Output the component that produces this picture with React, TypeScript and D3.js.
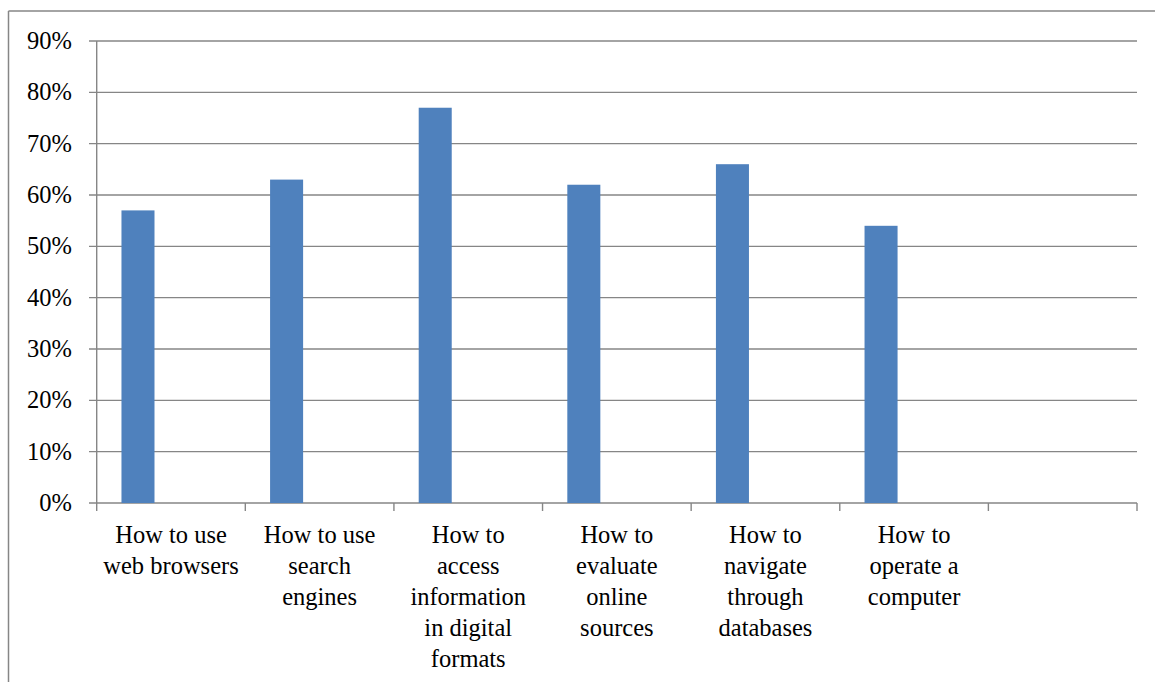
import React from "react";
import * as d3 from "d3";

// Survey topics (the seventh slot is left empty, as in the source workbook)
const categories: string[][] = [
  ["How to use", "web browsers"],
  ["How to use", "search", "engines"],
  ["How to", "access", "information", "in digital", "formats"],
  ["How to", "evaluate", "online", "sources"],
  ["How to", "navigate", "through", "databases"],
  ["How to", "operate a", "computer"],
  [],
];
const values: number[] = [0.57, 0.63, 0.77, 0.62, 0.66, 0.54];
const seriesSlots: string[] = ["s1", "s2", "s3"];
const yTicks: number[] = [0, 0.1, 0.2, 0.3, 0.4, 0.5, 0.6, 0.7, 0.8, 0.9];

const W = 1155;
const H = 682;
const plot = { left: 96.7, right: 1137, top: 41, bottom: 503 };
const GRID = "#868686";
const BAR = "#4F81BD";
const FONT = "'Liberation Serif', 'Times New Roman', serif";
const FS = 24.5;

export default function App() {
  const keys = categories.map((_, i) => String(i));
  const x = d3.scaleBand<string>().domain(keys).range([plot.left, plot.right]).padding(0);
  const bw = x.bandwidth();
  const inner = d3
    .scaleBand<string>()
    .domain(seriesSlots)
    .range([bw * (0.75 / 4.5), bw * (1 - 0.75 / 4.5)])
    .padding(0);
  const y = d3.scaleLinear().domain([0, 0.9]).range([plot.bottom, plot.top]);
  const fmt = d3.format(".0%");

  return (
    <svg
      width={W}
      height={H}
      style={{ position: "absolute", left: 0, top: 0, display: "block", background: "#fff" }}
    >
      {/* outer frame */}
      <line x1={8.5} y1={11} x2={W} y2={11} stroke={GRID} strokeWidth={1.5} />
      <line x1={8.5} y1={11} x2={8.5} y2={H} stroke={GRID} strokeWidth={1.5} />

      {/* gridlines, y ticks and labels */}
      {yTicks.map((t) => (
        <g key={t}>
          <line x1={89} x2={plot.right} y1={y(t)} y2={y(t)} stroke={GRID} strokeWidth={1.4} />
          <text
            x={72}
            y={y(t) + 8}
            textAnchor="end"
            fontFamily={FONT}
            fontSize={FS}
            fill="#000"
          >
            {fmt(t)}
          </text>
        </g>
      ))}

      {/* y axis */}
      <line x1={plot.left} x2={plot.left} y1={plot.top} y2={plot.bottom} stroke={GRID} strokeWidth={1.4} />

      {/* bars */}
      {values.map((v, i) => (
        <rect
          key={i}
          x={(x(String(i)) as number) + (inner("s1") as number)}
          y={y(v)}
          width={inner.bandwidth()}
          height={y(0) - y(v)}
          fill={BAR}
        />
      ))}

      {/* category ticks */}
      {d3.range(keys.length + 1).map((i) => {
        const xp = plot.left + i * bw;
        return <line key={i} x1={xp} x2={xp} y1={plot.bottom} y2={511} stroke={GRID} strokeWidth={1.4} />;
      })}

      {/* category labels */}
      {categories.map((lines, i) => {
        const cx = (x(String(i)) as number) + bw / 2;
        return lines.map((ln, j) => (
          <text
            key={`${i}-${j}`}
            x={cx}
            y={543 + j * 31}
            textAnchor="middle"
            fontFamily={FONT}
            fontSize={FS}
            fill="#000"
          >
            {ln}
          </text>
        ));
      })}
    </svg>
  );
}
